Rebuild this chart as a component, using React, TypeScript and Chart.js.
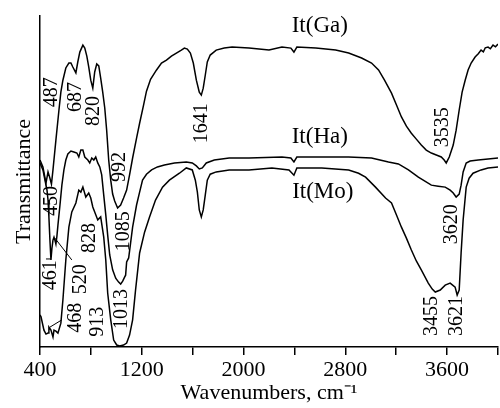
import React, { useEffect, useRef } from "react";
import { Chart, registerables } from "chart.js";

Chart.register(...registerables);

// Wavenumber (cm^-1) and transmittance (arbitrary units, 0-100)
const gaWn = [400, 423, 447, 463, 478, 490, 502, 525, 549, 564, 580, 603, 627, 643, 658, 682, 697, 713, 737, 752, 768, 783, 799, 815, 830, 846, 862, 877, 893, 909, 924, 940, 956, 971, 987, 1010, 1034, 1057, 1081, 1104, 1128, 1159, 1183, 1214, 1237, 1269, 1316, 1355, 1394, 1433, 1472, 1511, 1535, 1558, 1582, 1605, 1629, 1652, 1668, 1683, 1699, 1715, 1738, 1785, 1848, 1910, 2043, 2200, 2302, 2372, 2396, 2419, 2568, 2724, 2826, 2928, 3006, 3061, 3108, 3163, 3202, 3241, 3280, 3319, 3358, 3397, 3436, 3476, 3515, 3554, 3577, 3593, 3617, 3648, 3671, 3695, 3718, 3742, 3765, 3789, 3820, 3845, 3867, 3885, 3900, 3922, 3940, 3961, 3980, 4000];
const gaT = [56.5, 54.4, 49.5, 52.9, 51.0, 49.2, 53.5, 62.5, 71.6, 77.0, 80.6, 84.3, 85.8, 85.8, 84.6, 82.8, 86.1, 89.1, 91.2, 90.3, 87.9, 84.6, 80.6, 78.2, 83.1, 85.5, 84.9, 81.2, 77.0, 72.2, 65.5, 56.5, 50.4, 46.2, 44.1, 42.0, 42.9, 45.0, 47.4, 52.0, 57.1, 63.1, 67.6, 73.1, 77.3, 80.9, 83.7, 85.8, 86.7, 87.9, 88.8, 89.7, 90.3, 90.0, 88.8, 85.8, 80.6, 77.0, 76.1, 78.2, 82.1, 86.1, 88.2, 89.7, 90.3, 90.6, 90.3, 89.7, 90.6, 90.3, 89.1, 90.6, 90.3, 89.7, 88.8, 87.3, 85.8, 83.7, 80.6, 76.7, 73.1, 69.5, 66.7, 64.6, 62.8, 61.0, 59.5, 58.6, 58.0, 57.4, 56.5, 55.6, 57.4, 61.0, 65.5, 71.6, 77.0, 80.6, 83.7, 85.8, 87.6, 88.6, 89.7, 89.2, 90.4, 90.6, 90.1, 91.2, 90.7, 91.5];

const haWn = [400, 423, 447, 455, 463, 470, 478, 486, 494, 502, 510, 517, 525, 533, 541, 557, 572, 588, 603, 619, 643, 666, 690, 705, 721, 737, 752, 776, 791, 807, 823, 838, 854, 870, 885, 901, 917, 932, 948, 971, 995, 1018, 1034, 1050, 1065, 1073, 1081, 1097, 1112, 1128, 1159, 1183, 1206, 1237, 1277, 1323, 1378, 1457, 1550, 1597, 1629, 1652, 1676, 1707, 1770, 1887, 2043, 2302, 2372, 2396, 2419, 2591, 2826, 3006, 3139, 3217, 3296, 3374, 3476, 3530, 3585, 3624, 3648, 3671, 3695, 3710, 3726, 3750, 3781, 3844, 3922, 4000];
const haT = [55.6, 53.5, 48.9, 47.4, 44.4, 39.3, 32.3, 26.3, 29.9, 32.3, 33.2, 32.3, 31.1, 33.5, 36.8, 42.9, 48.9, 53.5, 56.5, 58.3, 59.2, 58.9, 58.6, 57.4, 59.5, 59.5, 57.4, 56.5, 55.6, 57.1, 56.5, 57.4, 55.6, 54.4, 52.0, 45.9, 39.9, 33.8, 27.8, 23.3, 20.8, 19.6, 19.0, 19.9, 21.1, 21.7, 25.7, 26.9, 31.4, 36.2, 42.9, 46.8, 50.4, 52.2, 53.5, 54.4, 55.0, 55.6, 55.9, 55.6, 54.7, 53.8, 54.1, 55.6, 56.5, 57.1, 57.1, 57.4, 57.1, 55.9, 57.4, 57.4, 57.4, 57.1, 55.9, 55.3, 53.5, 51.3, 48.9, 48.6, 48.3, 47.4, 46.5, 45.3, 46.2, 48.9, 52.9, 55.6, 56.2, 56.5, 56.8, 57.1];

const moWn = [400, 408, 431, 447, 463, 470, 486, 502, 510, 525, 541, 564, 580, 603, 627, 650, 682, 705, 721, 737, 760, 783, 799, 815, 830, 854, 877, 901, 917, 932, 956, 979, 1003, 1026, 1057, 1081, 1104, 1128, 1151, 1183, 1222, 1261, 1308, 1363, 1417, 1496, 1550, 1597, 1621, 1637, 1652, 1668, 1683, 1699, 1715, 1738, 1785, 1887, 2043, 2223, 2357, 2396, 2419, 2615, 2826, 2904, 2959, 3037, 3116, 3163, 3202, 3241, 3280, 3319, 3358, 3397, 3452, 3483, 3507, 3546, 3585, 3624, 3663, 3679, 3695, 3710, 3726, 3750, 3773, 3804, 3867, 3922, 4000];
const moT = [9.7, 9.1, 5.1, 3.9, 4.2, 6.0, 5.1, 3.0, 5.1, 4.8, 4.2, 7.2, 14.2, 26.3, 36.2, 40.8, 43.5, 47.4, 46.8, 48.3, 45.3, 46.5, 45.0, 42.3, 40.8, 38.4, 39.3, 33.2, 26.3, 16.3, 8.2, 2.1, 0.6, 0.3, 0.6, 1.2, 3.6, 8.2, 17.2, 28.4, 34.7, 39.3, 44.4, 48.3, 50.4, 52.5, 54.1, 53.5, 50.4, 46.8, 41.4, 39.3, 41.4, 45.9, 50.4, 52.2, 52.9, 53.5, 53.5, 54.1, 53.5, 51.9, 54.1, 54.1, 53.5, 52.5, 51.3, 48.3, 45.0, 43.5, 39.9, 36.2, 32.9, 29.3, 26.0, 23.3, 19.3, 17.5, 16.6, 17.2, 18.7, 19.3, 18.1, 15.7, 17.2, 28.4, 38.4, 48.3, 51.0, 52.5, 53.5, 54.1, 54.4];

// Band labels (rotated text)
const peakText = ["487", "687", "820", "992", "1641", "3535", "450", "461", "520", "828", "1085", "1013", "468", "913", "3620", "3455", "3621"];
const peakWn = [490, 682, 823, 1026, 1668, 3562, 494, 486, 721, 791, 1057, 1042, 682, 854, 3640, 3483, 3679];
const peakT = [77.0, 75.5, 71.3, 54.4, 67.6, 66.4, 44.1, 21.7, 20.5, 32.9, 35.0, 11.5, 8.8, 7.6, 37.1, 9.4, 9.4];

// Series names
const seriesNames = ["It(Ga)", "It(Ha)", "It(Mo)"];
const seriesWn = [2599, 2599, 2623];
const seriesT = [97.0, 63.4, 46.8];

// Leader lines from labels to bands
const leadFromWn = [517, 478, 447];
const leadFromT = [32.9, 6.0, 26.6];
const leadToWn = [650, 572, 486];
const leadToT = [26.3, 8.2, 26.6];

const xTickLabels = [400, 1200, 2000, 2800, 3600];

const FONT = "'Liberation Serif', 'Times New Roman', serif";

const toPts = (xs: number[], ys: number[]) => xs.map((x, i) => ({ x, y: ys[i] }));

const annotPlugin = {
  id: "annot",
  afterDatasetsDraw(chart: any) {
    const { ctx, scales } = chart;
    const xs = scales.x;
    const ys = scales.y;
    ctx.save();
    ctx.fillStyle = "#000";
    ctx.strokeStyle = "#000";
    ctx.textAlign = "center";
    ctx.textBaseline = "middle";
    ctx.font = `20px ${FONT}`;
    peakText.forEach((t, i) => {
      const px = xs.getPixelForValue(peakWn[i]);
      const py = ys.getPixelForValue(peakT[i]);
      ctx.save();
      ctx.translate(px, py);
      ctx.rotate(-Math.PI / 2);
      ctx.fillText(t, 0, 0);
      ctx.restore();
    });
    ctx.font = `23px ${FONT}`;
    seriesNames.forEach((t, i) => {
      ctx.fillText(t, xs.getPixelForValue(seriesWn[i]), ys.getPixelForValue(seriesT[i]));
    });
    ctx.lineWidth = 1;
    leadFromWn.forEach((w, i) => {
      ctx.beginPath();
      ctx.moveTo(xs.getPixelForValue(w), ys.getPixelForValue(leadFromT[i]));
      ctx.lineTo(xs.getPixelForValue(leadToWn[i]), ys.getPixelForValue(leadToT[i]));
      ctx.stroke();
    });
    ctx.restore();
  },
};

export default function App() {
  const ref = useRef<HTMLCanvasElement | null>(null);

  useEffect(() => {
    document.body.style.margin = "0";
    if (!ref.current) return;
    const lineStyle = {
      borderColor: "#000",
      borderWidth: 1.5,
      pointRadius: 0,
      fill: false,
      tension: 0,
    };
    const chart = new Chart(ref.current, {
      type: "line",
      data: {
        datasets: [
          { label: seriesNames[0], data: toPts(gaWn, gaT), ...lineStyle },
          { label: seriesNames[1], data: toPts(haWn, haT), ...lineStyle },
          { label: seriesNames[2], data: toPts(moWn, moT), ...lineStyle },
        ],
      },
      options: {
        animation: false,
        responsive: false,
        devicePixelRatio: 1,
        layout: { padding: { top: 16, right: 0, left: 0, bottom: 0 } },
        plugins: { legend: { display: false }, tooltip: { enabled: false } },
        scales: {
          x: {
            type: "linear",
            min: 400,
            max: 4000,
            ticks: {
              stepSize: 400,
              autoSkip: false,
              maxRotation: 0,
              color: "#000",
              padding: 2,
              font: { family: FONT, size: 22 },
              callback: (v: any) => (xTickLabels.includes(Number(v)) ? String(v) : ""),
            },
            grid: {
              display: true,
              drawOnChartArea: false,
              drawTicks: true,
              tickLength: 8,
              color: "#000",
              lineWidth: 1.5,
            },
            border: { display: true, color: "#000", width: 1.5 },
            title: {
              display: true,
              text: "Wavenumbers, cm\u207B\u00B9",
              color: "#000",
              font: { family: FONT, size: 22 },
              padding: { top: 0, bottom: 2 },
            },
            afterFit: (s: any) => {
              s.height = 61;
            },
          },
          y: {
            type: "linear",
            min: 0,
            max: 100,
            ticks: { display: false },
            grid: { display: false },
            border: { display: true, color: "#000", width: 1.5 },
            title: {
              display: true,
              text: "Transmittance",
              color: "#000",
              font: { family: FONT, size: 22 },
              padding: { top: 11, bottom: 0 },
            },
            afterFit: (s: any) => {
              s.width = 40;
            },
          },
        },
      },
      plugins: [annotPlugin],
    });
    return () => chart.destroy();
  }, []);

  return (
    <div style={{ width: 500, height: 408 }}>
      <canvas ref={ref} width={500} height={408} style={{ width: 500, height: 408, display: "block" }} />
    </div>
  );
}
